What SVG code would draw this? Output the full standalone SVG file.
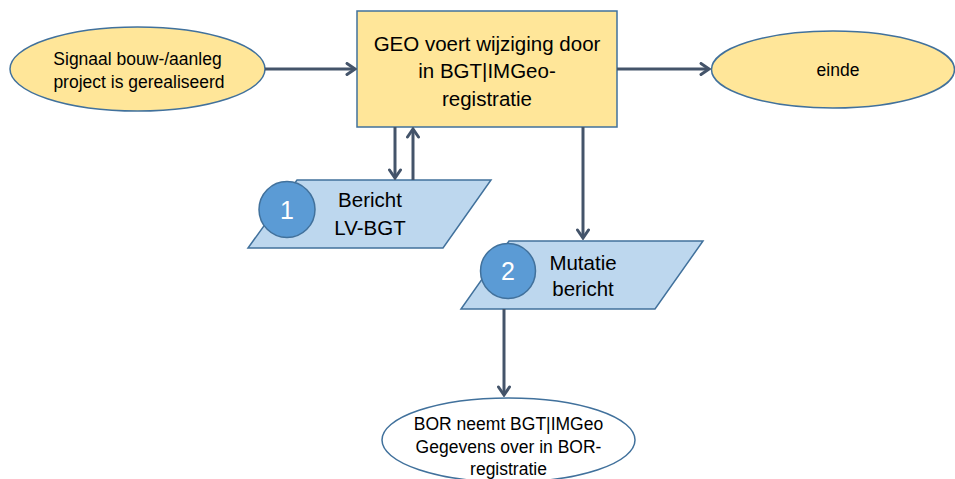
<svg xmlns="http://www.w3.org/2000/svg" width="955" height="479" viewBox="0 0 955 479">
<defs>
<marker id="ah" viewBox="0 0 12 14" refX="10" refY="7" markerWidth="12" markerHeight="14" markerUnits="userSpaceOnUse" orient="auto">
<path d="M2,1.5 L10,7 L2,12.5" fill="none" stroke="#44546a" stroke-width="3" stroke-linecap="round" stroke-linejoin="miter"/>
</marker>
<style>
.term{fill:#ffe699;stroke:#41719c;stroke-width:1.5}
.proc{fill:#ffe699;stroke:#41719c;stroke-width:1.5}
.data{fill:#bdd7ee;stroke:#41719c;stroke-width:1.5}
.num{fill:#5b9bd5;stroke:#41719c;stroke-width:1.5}
.end{fill:#ffffff;stroke:#41719c;stroke-width:1.5}
.conn line{stroke:#44546a;stroke-width:3;fill:none;marker-end:url(#ah)}
text{font-family:"Liberation Sans",Arial,sans-serif;fill:#000;text-anchor:middle}
.s{font-size:17.5px}
.m{font-size:20.5px}
.n{font-size:25px;fill:#fff}
</style>
</defs>
<rect width="955" height="479" fill="#ffffff"/>
<g id="start">
<ellipse class="term" cx="137.5" cy="69" rx="127.5" ry="42"/>
<text class="s" x="137.5" y="65">Signaal bouw-/aanleg</text>
<text class="s" x="139" y="88">project is gerealiseerd</text>
</g>
<g id="geo">
<rect class="proc" x="357" y="11" width="260" height="116"/>
<text class="m" x="487" y="51">GEO voert wijziging door</text>
<text class="m" x="487" y="78">in BGT|IMGeo-</text>
<text class="m" x="487" y="106">registratie</text>
</g>
<g id="einde">
<ellipse class="term" cx="833" cy="69.5" rx="121.5" ry="38.5"/>
<text class="s" x="838" y="76">einde</text>
</g>
<g id="bericht">
<polygon class="data" points="297,180 491,180 443,248 248,248"/>
<circle class="num" cx="287" cy="209.5" r="28"/>
<text class="n" x="287" y="219">1</text>
<text class="m" x="370" y="207">Bericht</text>
<text class="m" x="370" y="235">LV-BGT</text>
</g>
<g id="mutatie">
<polygon class="data" points="509,241 703,241 655,309 461,309"/>
<circle class="num" cx="508" cy="271" r="27.5"/>
<text class="n" x="508" y="280">2</text>
<text class="m" x="583" y="270">Mutatie</text>
<text class="m" x="583" y="296">bericht</text>
</g>
<g id="bor">
<ellipse class="end" cx="508.5" cy="440" rx="126.5" ry="42"/>
<text class="s" x="508.5" y="430">BOR neemt BGT|IMGeo</text>
<text class="s" x="508.5" y="453">Gegevens over in BOR-</text>
<text class="s" x="508.5" y="475">registratie</text>
</g>
<g id="connectors" class="conn">
<line x1="265" y1="69" x2="355" y2="69"/>
<line x1="617" y1="69" x2="709" y2="69"/>
<line x1="395" y1="127" x2="395" y2="178"/>
<line x1="413" y1="180" x2="413" y2="129"/>
<line x1="583" y1="127" x2="583" y2="238"/>
<line x1="504" y1="309" x2="504" y2="395"/>
</g>
</svg>
